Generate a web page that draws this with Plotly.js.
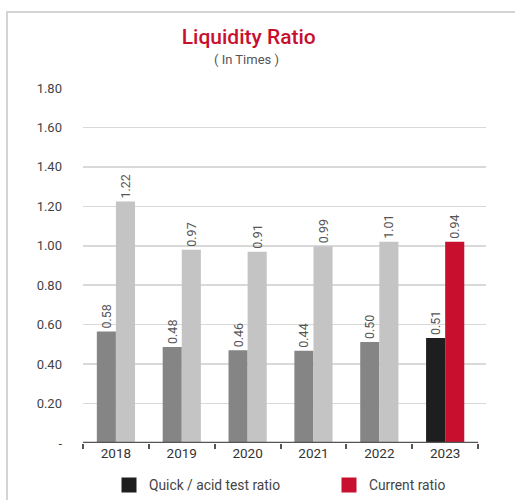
<!DOCTYPE html>
<html><head><meta charset="utf-8">
<script src="https://cdn.plot.ly/plotly-3.0.1.min.js"></script>
<style>
html,body{margin:0;padding:0;background:#fff;overflow:hidden;}
#frame{position:absolute;left:6px;top:11px;width:700px;height:700px;border:2px solid #d4d4d4;box-sizing:border-box;}
#chart{position:absolute;left:0;top:0;width:515px;height:500px;}
</style></head>
<body>
<div id="frame"></div>
<div id="chart"></div>
<script>
const years = ['2018','2019','2020','2021','2022','2023'];
const quickValues = [0.565, 0.487, 0.47, 0.468, 0.512, 0.532];
const quickLabels = ['0.58','0.48','0.46','0.44','0.50','0.51'];
const currentValues = [1.224, 0.98, 0.97, 0.997, 1.02, 1.02];
const currentLabels = ['1.22','0.97','0.91','0.99','1.01','0.94'];
const yTickVals = [0, 0.2, 0.4, 0.6, 0.8, 1.0, 1.2, 1.4, 1.6, 1.8];
const yTickText = ['-', '0.20', '0.40', '0.60', '0.80', '1.00', '1.20', '1.40', '1.60', '1.80'];
const seriesNames = ['Quick / acid test ratio', 'Current ratio'];

const quickColors = years.map((y, i) => i === years.length - 1 ? '#1e1e1e' : '#858585');
const currentColors = years.map((y, i) => i === years.length - 1 ? '#c8102e' : '#c4c4c4');

const labelFont = {family: 'Roboto, sans-serif', size: 12.5, color: '#555'};
const legendFont = {family: 'Roboto, sans-serif', size: 13.8, color: '#444'};

const traces = [
  {type: 'bar', x: years, y: quickValues, text: quickLabels, textposition: 'outside',
   textangle: -90, textfont: labelFont, cliponaxis: false, constraintext: 'none',
   marker: {color: quickColors}, showlegend: false, hoverinfo: 'skip'},
  {type: 'bar', x: years, y: currentValues, text: currentLabels, textposition: 'outside',
   textangle: -90, textfont: labelFont, cliponaxis: false, constraintext: 'none',
   marker: {color: currentColors}, showlegend: false, hoverinfo: 'skip'},
  {type: 'scatter', mode: 'markers', x: [null], y: [null], name: seriesNames[0],
   legend: 'legend', marker: {symbol: 'square', size: 15, color: '#1e1e1e'}},
  {type: 'scatter', mode: 'markers', x: [null], y: [null], name: seriesNames[1],
   legend: 'legend2', marker: {symbol: 'square', size: 15, color: '#c8102e'}}
];

const layout = {
  width: 515, height: 500,
  margin: {l: 83, r: 29, t: 88, b: 57},
  paper_bgcolor: 'rgba(0,0,0,0)', plot_bgcolor: 'rgba(0,0,0,0)',
  font: {family: 'Roboto, sans-serif', color: '#444'},
  title: {text: 'Liquidity Ratio', x: 0.483, xref: 'container', xanchor: 'center',
          y: 0.913, yref: 'container', yanchor: 'bottom',
          font: {family: 'Roboto, sans-serif', size: 21, color: '#c8102e', weight: 500}},
  annotations: [{text: '( In Times )', xref: 'paper', yref: 'paper', x: 0.405, y: 1.08,
                 xanchor: 'center', yanchor: 'middle', showarrow: false,
                 font: {family: 'Roboto, sans-serif', size: 13, color: '#555'}}],
  barmode: 'group', bargap: 0.42, bargroupgap: 0,
  xaxis: {type: 'category', range: [-0.5, 5.62], tickson: 'boundaries', ticks: 'outside',
          ticklen: 5, tickwidth: 2, tickcolor: '#555', showline: false, showgrid: false,
          tickfont: {family: 'Roboto, sans-serif', size: 13.5, color: '#333'}},
  yaxis: {range: [0, 1.8], tickvals: yTickVals, ticktext: yTickText, showgrid: true,
          gridcolor: '#d9d9d9', gridwidth: 1.5, zeroline: false, showline: false,
          ticklabelstandoff: 20,
          tickfont: {family: 'Roboto, sans-serif', size: 13, color: '#444'}},
  shapes: [{type: 'line', xref: 'x', yref: 'y', x0: -0.5, x1: 5.5, y0: 0, y1: 0,
            line: {color: '#555', width: 2.5}, layer: 'above'}],
  legend: {orientation: 'h', xref: 'container', yref: 'container', x: 109/515, y: 0.03,
           xanchor: 'left', yanchor: 'middle', font: legendFont},
  legend2: {orientation: 'h', xref: 'container', yref: 'container', x: 329/515, y: 0.03,
           xanchor: 'left', yanchor: 'middle', font: legendFont},
  showlegend: true
};

Plotly.newPlot('chart', traces, layout, {displayModeBar: false, staticPlot: true});
</script>
</body></html>
